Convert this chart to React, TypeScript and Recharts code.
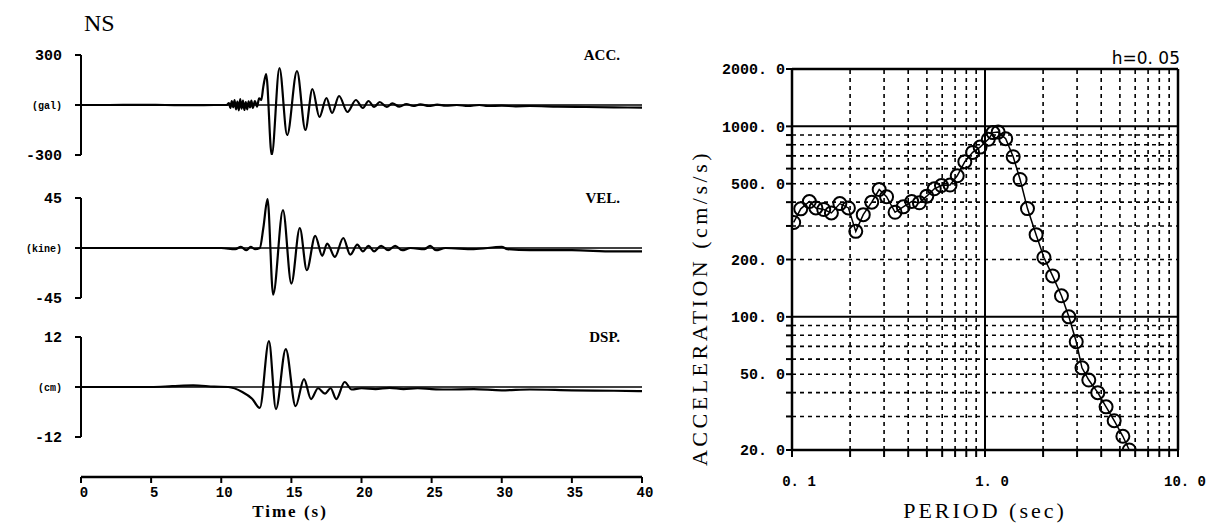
import React from "react";
import { LineChart, Line, XAxis, YAxis, ReferenceLine } from "recharts";

// NS component time histories: [time (s), value]
const accPoints: [number, number][] = [
  [0, 0], [2, 0], [4, 1], [6, 0], [8, -1], [9.5, 0], [10.4, 0],
  [10.55, 12], [10.65, -18], [10.75, 24], [10.85, -14], [10.95, 30], [11.05, -26],
  [11.15, 20], [11.25, -32], [11.35, 36], [11.45, -22], [11.55, 26], [11.65, -30],
  [11.75, 18], [11.85, -26], [11.95, 22], [12.05, -14], [12.15, 26], [12.25, -18],
  [12.4, 24], [12.55, -10], [12.7, 40], [12.85, 30], [13.0, 110], [13.2, 186],
  [13.6, -300], [14.15, 222], [14.7, -180], [15.4, 204], [16.0, -150], [16.5, 96],
  [17.0, -72], [17.5, 42], [17.9, -48], [18.4, 54], [19.0, -42], [19.6, 30],
  [20.1, -18], [20.5, 24], [20.9, -12], [21.3, 18], [21.8, -12], [22.2, 10],
  [22.7, -10], [23.2, 6], [23.7, -6], [24.2, 4], [24.8, -6], [25.4, 2], [26, -4],
  [26.8, 0], [27.6, -6], [28.4, 0], [29, -6], [30, -4], [31, -8], [32, -6],
  [34, -10], [36, -12], [38, -14], [40, -16],
];

const velPoints: [number, number][] = [
  [0, 0], [5, 0], [10, 0], [11, -1], [11.4, 1], [11.8, -2], [12.1, 1], [12.4, -1],
  [12.75, 0], [13.0, 18], [13.3, 44], [13.7, -42], [14.4, 34], [15.0, -32],
  [15.6, 18], [16.1, -20], [16.7, 11], [17.2, -7], [17.55, 4], [18.1, -8],
  [18.7, 9], [19.2, -6], [19.7, 3], [20.1, -3], [20.5, 2], [20.9, -3], [21.4, 2],
  [21.9, -2], [22.4, 2], [22.9, -2], [23.5, 0], [24.5, -1], [24.9, 2], [25.3, -2],
  [26, 0], [28, -1], [30, 1], [30.4, -1], [32, -2], [35, -2], [38, -3], [40, -3],
];

const dspPoints: [number, number][] = [
  [0, 0], [5, 0], [6.5, 0.2], [8, 0.4], [9.5, 0.1], [10.5, 0], [11.5, -1.2],
  [12.2, -2.8], [12.75, -5], [13.4, 11], [13.9, -5.3], [14.6, 9.1], [15.3, -4.6],
  [15.9, 1.9], [16.4, -2.9], [16.9, -0.3], [17.4, -1.6], [17.8, -0.3], [18.2, -2.9],
  [18.8, 1.2], [19.3, -0.6], [20, -0.3], [21, -0.5], [22, -0.2], [23, -0.5],
  [24, -0.3], [25, -0.5], [26, -0.6], [28, -0.5], [30, -0.8], [32, -0.6],
  [35, -0.8], [38, -0.9], [40, -1.0],
];

const timeTicks = [0, 5, 10, 15, 20, 25, 30, 35, 40];

// acceleration response spectrum, h = 0.05
const spectrumPeriod = [
  0.102, 0.111, 0.123, 0.133, 0.146, 0.16, 0.177, 0.196, 0.214, 0.234, 0.259,
  0.283, 0.309, 0.342, 0.377, 0.417, 0.457, 0.499, 0.546, 0.595, 0.659, 0.718,
  0.786, 0.863, 0.943, 1.04, 1.1, 1.17, 1.28, 1.4, 1.52, 1.66, 1.84, 2.02, 2.24,
  2.49, 2.72, 2.97, 3.18, 3.45, 3.84, 4.24, 4.67, 5.18, 5.59,
];
const spectrumAcc = [
  313, 369, 403, 373, 366, 351, 393, 373, 281, 344, 400, 466, 427, 354, 378, 403,
  397, 430, 470, 489, 492, 550, 652, 730, 778, 855, 927, 933, 861, 693, 526, 370,
  270, 205, 164, 129, 100, 74, 54, 46.6, 40, 33.7, 28.5, 23.6, 20,
];

const periodTicks = [0.1, 0.2, 0.3, 0.4, 0.5, 0.6, 0.7, 0.8, 0.9, 1, 2, 3, 4, 5, 6, 7, 8, 9, 10];
const periodLabelValues = [0.1, 1, 10];
const periodLabels = ["0. 1", "1. 0", "10. 0"];
const accelTicks = [20, 30, 40, 50, 60, 70, 80, 90, 100, 200, 300, 400, 500, 600, 700, 800, 900, 1000, 2000];
const accelLabelValues = [20, 50, 100, 200, 500, 1000, 2000];
const accelLabels = ["20. 0", "50. 0", "100. 0", "200. 0", "500. 0", "1000. 0", "2000. 0"];
const periodMinor = [0.2, 0.3, 0.4, 0.5, 0.6, 0.7, 0.8, 0.9, 2, 3, 4, 5, 6, 7, 8, 9];
const accelMinor = [30, 40, 50, 60, 70, 80, 90, 200, 300, 400, 500, 600, 700, 800, 900];

const MONO = "'Liberation Mono', 'DejaVu Sans Mono', monospace";
const SERIF = "'Liberation Serif', 'DejaVu Serif', serif";

const panelTick = (unit: string) => (props: any) => {
  const { x, y, payload } = props;
  const zero = payload.value === 0;
  return (
    <text x={x} y={y} dy="0.35em" textAnchor="end" fontFamily={MONO} fontWeight="bold"
      fontSize={zero ? 10 : 15} fill="#000">
      {zero ? unit : String(payload.value)}
    </text>
  );
};

function TracePanel({ points, top, max, unit, name }: any) {
  const data = points.map(([t, v]: [number, number]) => ({ t, v }));
  return (
    <div style={{ position: "absolute", left: 0, top, width: 650, height: 130 }}>
      <LineChart width={650} height={130} data={data} margin={{ top: 10, right: 8, bottom: 20, left: 0 }}>
        <XAxis type="number" dataKey="t" domain={[0, 40]} hide />
        <YAxis type="number" domain={[-max, max]} ticks={[-max, 0, max]} interval={0} width={81}
          allowDataOverflow tickSize={6} tickMargin={13} tick={panelTick(unit)}
          axisLine={{ stroke: "#000", strokeWidth: 2 }} tickLine={{ stroke: "#000", strokeWidth: 2 }} />
        <ReferenceLine y={0} stroke="#000" strokeWidth={1.5} />
        <Line type="monotone" dataKey="v" stroke="#000" strokeWidth={2.2} dot={false} isAnimationActive={false} />
      </LineChart>
      <div style={{ position: "absolute", right: 30, top: 2, fontFamily: SERIF, fontWeight: "bold", fontSize: 15 }}>
        {name}
      </div>
    </div>
  );
}

const timeTick = (props: any) => {
  const { x, y, payload } = props;
  return (
    <text x={x + 3} y={y} dy="0.71em" textAnchor="middle" fontFamily={MONO} fontWeight="bold" fontSize={14} fill="#000">
      {payload.value}
    </text>
  );
};

const periodTick = (props: any) => {
  const { x, y, payload } = props;
  const i = periodLabelValues.indexOf(payload.value);
  if (i < 0) return <g />;
  return (
    <text x={x + 7} y={y} dy="0.71em" textAnchor="middle" fontFamily={MONO} fontWeight="bold" fontSize={14} fill="#000">
      {periodLabels[i]}
    </text>
  );
};

const accelTick = (props: any) => {
  const { x, y, payload } = props;
  const i = accelLabelValues.indexOf(payload.value);
  if (i < 0) return <g />;
  return (
    <text x={x} y={y} dy="0.35em" textAnchor="end" fontFamily={MONO} fontWeight="bold" fontSize={15} fill="#000">
      {accelLabels[i]}
    </text>
  );
};

export default function App() {
  const spectrum = spectrumPeriod.map((p, i) => ({ p, a: spectrumAcc[i] }));
  const axisData = timeTicks.map((t) => ({ t }));
  return (
    <div style={{ position: "absolute", left: 0, top: 0, width: 1211, height: 525, background: "#fff", overflow: "hidden" }}>
      <div style={{ position: "absolute", left: 84, top: 10, fontFamily: SERIF, fontSize: 24 }}>NS</div>

      <TracePanel points={accPoints} top={45} max={300} unit="(gal)" name="ACC." />
      <TracePanel points={velPoints} top={188} max={45} unit="(kine)" name="VEL." />
      <TracePanel points={dspPoints} top={327} max={12} unit="(cm)" name="DSP." />

      <div style={{ position: "absolute", left: 0, top: 437, width: 670, height: 88 }}>
        <LineChart width={670} height={88} data={axisData} margin={{ top: 0, right: 28, bottom: 0, left: 81 }}>
          <XAxis type="number" dataKey="t" domain={[0, 40]} ticks={timeTicks} interval={0} height={48}
            tickSize={6} tickMargin={4} tick={timeTick}
            axisLine={{ stroke: "#000", strokeWidth: 2.5 }} tickLine={{ stroke: "#000", strokeWidth: 2 }} />
          <YAxis hide domain={[0, 1]} />
        </LineChart>
        <div style={{ position: "absolute", left: 0, width: 580, top: 65, textAlign: "center", fontFamily: SERIF,
          fontWeight: "bold", fontSize: 17, letterSpacing: 2 }}>
          Time (s)
        </div>
      </div>

      <div style={{ position: "absolute", left: 680, top: 40, width: 531, height: 485 }}>
        <LineChart width={531} height={485} data={spectrum} margin={{ top: 29, right: 33, bottom: 35, left: 0 }}>
          <XAxis type="number" dataKey="p" scale="log" domain={[0.1, 10]} ticks={periodTicks} interval={0}
            allowDataOverflow height={40} tickSize={7} tickMargin={19} tick={periodTick}
            axisLine={{ stroke: "#000", strokeWidth: 2.5 }} tickLine={{ stroke: "#000", strokeWidth: 2 }} />
          <YAxis type="number" dataKey="a" scale="log" domain={[20, 2000]} ticks={accelTicks} interval={0}
            allowDataOverflow width={112} tickSize={6} tickMargin={1} tick={accelTick}
            axisLine={{ stroke: "#000", strokeWidth: 2.5 }} tickLine={{ stroke: "#000", strokeWidth: 2 }} />
          {periodMinor.map((v) => (
            <ReferenceLine key={"x" + v} x={v} stroke="#000" strokeWidth={1.6} strokeDasharray="4 4" />
          ))}
          {accelMinor.map((v) => (
            <ReferenceLine key={"y" + v} y={v} stroke="#000" strokeWidth={1.6} strokeDasharray="4 4" />
          ))}
          <ReferenceLine x={1} stroke="#000" strokeWidth={2} />
          <ReferenceLine x={10} stroke="#000" strokeWidth={2.5} />
          <ReferenceLine y={100} stroke="#000" strokeWidth={2} />
          <ReferenceLine y={1000} stroke="#000" strokeWidth={2} />
          <ReferenceLine y={2000} stroke="#000" strokeWidth={2.5} />
          <Line type="linear" dataKey="a" stroke="#000" strokeWidth={1.5} isAnimationActive={false}
            dot={{ r: 6.5, stroke: "#000", strokeWidth: 2, fill: "none" }} />
        </LineChart>
        <div style={{ position: "absolute", right: 31, top: 8, fontFamily: "'DejaVu Sans', sans-serif", fontSize: 17 }}>
          h=0. 05
        </div>
        <div style={{ position: "absolute", left: 20, top: 268, width: 0, height: 0 }}>
          <div style={{ position: "absolute", left: 0, top: 0, transform: "translate(-50%, -50%) rotate(-90deg)",
            whiteSpace: "nowrap", fontFamily: SERIF, fontSize: 22, letterSpacing: 3.5 }}>
            ACCELERATION (cm/s/s)
          </div>
        </div>
        <div style={{ position: "absolute", left: 112, width: 386, top: 458, textAlign: "center",
          fontFamily: SERIF, fontSize: 22, letterSpacing: 3 }}>
          PERIOD (sec)
        </div>
      </div>
    </div>
  );
}
